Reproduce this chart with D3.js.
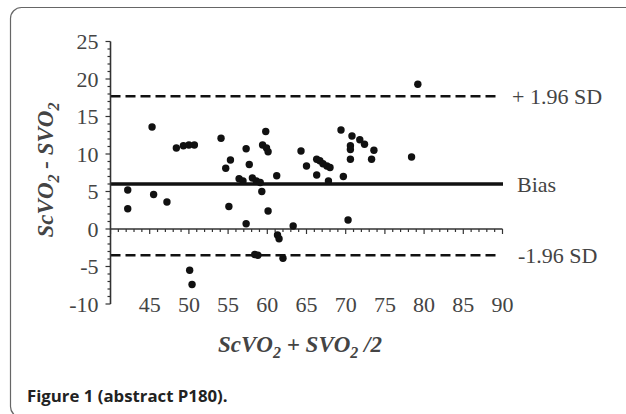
<!DOCTYPE html>
<html><head><meta charset="utf-8">
<script src="https://cdn.jsdelivr.net/npm/d3@7"></script>
<style>body{margin:0;background:#fff;} svg{display:block;}</style>
</head><body>
<script>
// Bland-Altman data: mean (x) and difference (y)
const meanValues = [42.2,42.2,45.3,45.5,47.2,48.4,49.3,50.0,50.7,50.1,50.4,54.1,54.7,55.3,55.1,56.4,56.9,57.3,57.7,57.3,58.1,58.6,59.1,59.3,58.4,58.8,59.8,59.4,59.9,60.1,60.1,61.2,61.3,61.5,62.0,63.3,64.3,65.0,66.3,66.7,67.1,67.6,68.0,66.3,67.8,69.4,69.7,70.6,70.6,70.6,70.3,70.8,71.8,72.4,73.6,73.3,78.4,79.2];
const diffValues = [5.2,2.7,13.6,4.6,3.6,10.8,11.1,11.2,11.2,-5.5,-7.4,12.1,8.1,9.2,3.0,6.7,6.4,10.7,8.6,0.7,6.8,6.4,6.2,5.0,-3.4,-3.5,13.0,11.2,10.8,10.3,2.4,7.1,-0.8,-1.3,-3.9,0.4,10.4,8.4,9.3,9.1,8.7,8.4,8.2,7.2,6.4,13.2,7.0,11.1,10.6,9.3,1.2,12.4,11.9,11.3,10.5,9.3,9.6,19.3];
const xTicks = [45,50,55,60,65,70,75,80,85,90];
const yTicks = [25,20,15,10,5,0,-5,-10];
const refLines = [
  {label:"+ 1.96 SD", value:17.7, dashed:true},
  {label:"Bias", value:6.0, dashed:false},
  {label:"-1.96 SD", value:-3.5, dashed:true}
];

const W=626,H=414;
const svg=d3.select("body").append("svg").attr("width",W).attr("height",H);
svg.append("rect").attr("x",10.5).attr("y",7.5).attr("width",700).attr("height",410)
  .attr("rx",11).attr("fill","#fff").attr("stroke","#666").attr("stroke-width",1.2);

const x=d3.scaleLinear().domain([40,90]).range([110.5,502.5]);
const y=d3.scaleLinear().domain([-10,25]).range([304,41.5]);
const serif="'Liberation Serif','Times New Roman',serif";
const textCol="#444";
const fs=22;

// reference lines
refLines.forEach(r=>{
  svg.append("line").attr("x1",x(40)).attr("x2",r.dashed?497:503)
    .attr("y1",y(r.value)).attr("y2",y(r.value))
    .attr("stroke","#111").attr("stroke-width",r.dashed?2.6:3.4)
    .attr("stroke-dasharray",r.dashed?"10,5":null);
});

// Y axis
const yAxisG=svg.append("g").attr("transform",`translate(${x(40)},0)`);
yAxisG.append("line").attr("y1",y(-10)).attr("y2",y(25)).attr("stroke","#333").attr("stroke-width",1.6);
d3.range(-10,25.01,1).forEach(v=>{
  const major=v%5===0;
  yAxisG.append("line").attr("x1",major?-5:-3).attr("x2",0).attr("y1",y(v)).attr("y2",y(v))
    .attr("stroke","#333").attr("stroke-width",1.2);
});
yTicks.forEach(v=>{
  yAxisG.append("text").attr("x",-12).attr("y",y(v)).attr("dy","0.35em")
    .attr("text-anchor","end").attr("font-family",serif).attr("font-size",fs)
    .attr("fill",textCol).text(v);
});

// X axis at y=0
const xAxisG=svg.append("g").attr("transform",`translate(0,${y(0)})`);
xAxisG.append("line").attr("x1",x(40)).attr("x2",x(90)).attr("stroke","#333").attr("stroke-width",1.6);
d3.range(40,90.01,1).forEach(v=>{
  const major=v%5===0;
  xAxisG.append("line").attr("x1",x(v)).attr("x2",x(v)).attr("y1",0).attr("y2",major?5:3)
    .attr("stroke","#333").attr("stroke-width",1.2);
});
xTicks.forEach(v=>{
  svg.append("text").attr("x",x(v)).attr("y",y(-10)).attr("dy","0.35em")
    .attr("text-anchor","middle").attr("font-family",serif).attr("font-size",fs)
    .attr("fill",textCol).text(v);
});

// points
svg.append("g").selectAll("circle").data(meanValues.map((m,i)=>[m,diffValues[i]])).join("circle")
  .attr("cx",d=>x(d[0])).attr("cy",d=>y(d[1])).attr("r",3.7).attr("fill","#111");

// ref line labels
refLines.forEach(r=>{
  svg.append("text").attr("x",r.label==="Bias"?517:(r.label.startsWith("+")?512:518))
    .attr("y",y(r.value)).attr("dy","0.35em")
    .attr("font-family",serif).attr("font-size",fs).attr("fill",textCol).text(r.label);
});

// axis titles: parts alternate normal / subscript
function title(g, parts){
  const t=g.append("text").attr("font-family",serif).attr("font-size",23)
    .attr("font-weight","bold").attr("font-style","italic").attr("fill",textCol).attr("text-anchor","middle");
  let prevSub=false;
  parts.forEach(p=>{
    const ts=t.append("tspan").text(p.t);
    if(p.sub){ ts.attr("font-size",16).attr("dy",6); prevSub=true; }
    else if(prevSub){ ts.attr("dy",-6); prevSub=false; }
  });
  return t;
}
const yt=svg.append("g").attr("transform","translate(53,170) rotate(-90)");
title(yt,[{t:"ScVO"},{t:"2",sub:true},{t:" - SVO"},{t:"2",sub:true}]);
const xt=svg.append("g").attr("transform","translate(300,352)");
title(xt,[{t:"ScVO"},{t:"2",sub:true},{t:" + SVO"},{t:"2",sub:true},{t:" /2"}]);

// caption
svg.append("text").attr("x",27).attr("y",402).attr("font-family","'Open Sans','Noto Sans',sans-serif")
  .attr("font-weight","bold").attr("font-size",16.8).attr("fill","#222").text("Figure 1 (abstract P180).");
</script>
</body></html>
